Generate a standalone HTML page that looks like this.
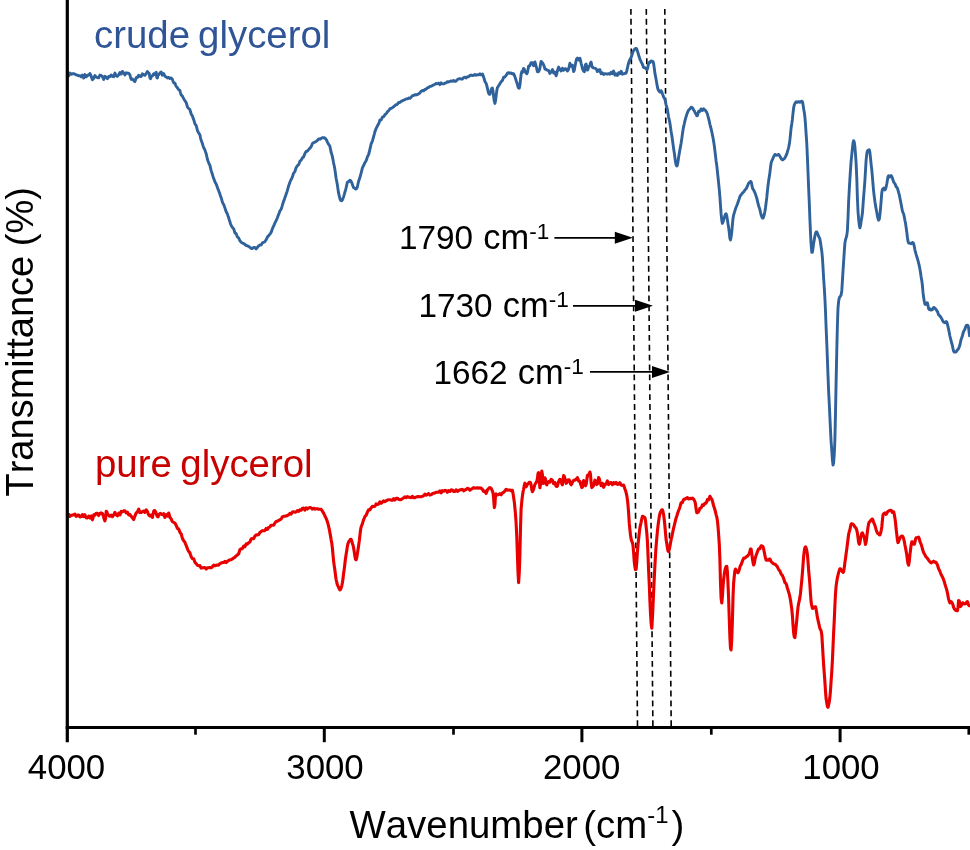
<!DOCTYPE html>
<html lang="en">
<head>
<meta charset="utf-8">
<title>FTIR spectra of crude and pure glycerol</title>
<style>
html,body{margin:0;padding:0;background:#fff;}
body{width:970px;height:850px;overflow:hidden;}
svg{display:block;}
text{font-family:"Liberation Sans",Arial,Helvetica,sans-serif;font-kerning:none;font-variant-ligatures:none;}
.title{font-size:38.4px;fill:#000;}
.tick{font-size:34.8px;fill:#000;text-anchor:middle;}
.ann{font-size:33.3px;fill:#000;}
.sup{font-size:0.62em;}
</style>
</head>
<body>
<svg width="970" height="850" viewBox="0 0 970 850">
<rect x="0" y="0" width="970" height="850" fill="#ffffff"/>
<!-- dashed guide lines -->
<g stroke="#000" stroke-width="1.6" stroke-dasharray="5.9 3.98" fill="none">
<line x1="630.9" y1="8.9" x2="637.5" y2="726"/>
<line x1="646.3" y1="8.9" x2="652.9" y2="726"/>
<line x1="664.8" y1="8.9" x2="671.2" y2="726"/>
</g>
<!-- spectra -->
<path d="M67.4,74.6 68.0,75.2 68.7,75.8 69.3,74.4 69.9,73.0 70.5,73.7 71.2,74.3 71.8,74.1 72.4,73.8 73.0,73.7 73.7,73.7 74.3,73.9 74.9,74.1 75.5,74.5 76.2,74.9 76.8,75.0 77.4,75.2 78.0,75.5 78.7,75.9 79.3,75.7 79.9,75.6 80.5,76.2 81.2,76.8 81.8,76.0 82.4,75.1 83.0,76.6 83.7,78.0 84.3,76.3 84.9,74.6 85.5,75.8 86.2,76.9 86.8,76.1 87.4,75.3 88.0,75.3 88.7,75.3 89.3,74.3 89.9,73.5 90.5,74.5 91.2,76.0 91.8,78.3 92.4,79.7 93.0,79.2 93.7,78.4 94.3,76.8 94.9,75.5 95.5,76.2 96.2,76.9 96.8,77.2 97.4,77.6 98.0,77.7 98.7,77.9 99.3,76.5 99.9,75.1 100.5,75.3 101.2,75.5 101.8,76.0 102.4,76.4 103.0,78.0 103.7,79.5 104.3,77.9 104.9,76.3 105.5,76.7 106.2,77.1 106.8,77.9 107.4,78.7 108.0,77.6 108.7,76.5 109.3,76.6 109.9,76.8 110.5,75.9 111.2,75.0 111.8,75.6 112.4,76.3 113.0,76.5 113.7,76.7 114.3,74.9 114.9,73.1 115.5,74.5 116.2,75.8 116.8,76.1 117.4,76.3 118.0,75.6 118.7,74.8 119.3,73.6 119.9,72.5 120.5,73.3 121.2,74.2 121.8,72.8 122.4,71.4 123.0,72.2 123.7,72.9 124.3,73.9 124.9,75.0 125.5,73.9 126.2,72.8 126.8,73.0 127.4,73.2 128.0,73.1 128.7,73.4 129.3,74.0 129.9,74.9 130.5,77.2 131.2,79.4 131.8,79.1 132.4,78.9 133.0,79.7 133.7,80.3 134.3,81.1 134.9,81.6 135.5,80.0 136.2,77.7 136.8,77.3 137.4,77.5 138.0,76.3 138.7,75.2 139.3,75.8 139.9,76.4 140.5,76.5 141.2,76.5 141.8,75.2 142.4,73.8 143.0,74.3 143.7,74.7 144.3,75.1 144.9,75.3 145.5,74.5 146.2,73.6 146.8,72.6 147.4,71.6 148.0,72.3 148.7,73.2 149.3,73.7 149.9,77.8 150.5,78.8 151.2,77.0 151.8,75.9 152.4,75.9 153.0,74.9 153.7,73.8 154.3,74.2 154.9,74.7 155.5,73.1 156.2,72.4 156.8,77.6 157.4,78.0 158.0,74.9 158.7,74.8 159.3,73.8 159.9,73.0 160.5,72.4 161.2,72.0 161.8,73.5 162.4,75.2 163.0,74.4 163.7,73.6 164.3,74.9 164.9,76.2 165.5,76.6 166.2,76.9 166.8,77.5 167.4,78.0 168.0,77.7 168.7,77.4 169.3,77.9 169.9,78.6 170.5,78.2 171.2,78.0 171.8,78.5 172.4,79.4 173.0,81.1 173.7,82.8 174.3,83.0 174.9,83.1 175.5,84.8 176.2,86.5 176.8,87.0 177.4,87.7 178.0,88.7 178.7,89.7 179.3,90.1 179.9,90.5 180.5,92.8 181.2,95.1 181.8,95.5 182.4,96.0 183.0,97.3 183.7,98.7 184.3,99.7 184.9,100.6 185.5,101.6 186.2,102.6 186.8,104.7 187.4,106.9 188.0,107.7 188.7,108.5 189.3,109.0 189.9,109.6 190.5,111.8 191.2,114.0 191.8,115.1 192.4,116.1 193.0,117.9 193.7,119.6 194.3,121.7 194.9,123.7 195.5,124.6 196.2,125.5 196.8,127.9 197.4,130.4 198.0,131.7 198.7,133.0 199.3,133.9 199.9,134.8 200.5,137.8 201.2,140.5 201.8,142.0 202.4,143.5 203.0,145.6 203.7,147.8 204.3,148.8 204.9,149.9 205.5,151.8 206.2,153.7 206.8,156.5 207.4,159.3 208.0,161.0 208.7,162.8 209.3,164.1 209.9,165.4 210.5,168.0 211.2,170.6 211.8,172.5 212.4,174.4 213.0,176.4 213.7,178.4 214.3,180.1 214.9,181.7 215.5,182.9 216.2,184.1 216.8,185.7 217.4,187.4 218.0,189.1 218.7,190.8 219.3,192.5 219.9,194.1 220.5,196.0 221.2,197.8 221.8,199.9 222.4,202.1 223.0,203.4 223.7,204.6 224.3,206.2 224.9,207.8 225.5,209.8 226.2,211.8 226.8,212.9 227.4,214.0 228.0,215.9 228.7,217.8 229.3,219.9 229.9,221.8 230.5,223.7 231.2,225.5 231.8,226.5 232.4,227.4 233.0,228.1 233.7,228.9 234.3,230.8 234.9,232.8 235.5,233.3 236.2,233.8 236.8,235.4 237.4,237.0 238.0,237.5 238.7,238.0 239.3,239.4 239.9,240.7 240.5,241.4 241.2,242.1 241.8,242.6 242.4,243.0 243.0,243.3 243.7,243.5 244.3,244.0 244.9,244.4 245.5,245.0 246.2,245.5 246.8,245.7 247.4,245.9 248.0,246.2 248.7,246.5 249.3,246.9 249.9,247.2 250.5,247.9 251.2,248.5 251.8,248.5 252.4,248.5 253.0,248.0 253.7,247.5 254.3,247.6 254.9,247.5 255.5,248.2 256.1,248.9 256.8,248.2 257.4,247.4 258.0,246.6 258.6,245.8 259.3,245.4 259.9,245.0 260.5,245.0 261.1,245.0 261.8,244.0 262.4,242.8 263.0,242.6 263.6,242.3 264.3,242.0 264.9,241.6 265.5,240.7 266.1,239.8 266.8,238.4 267.4,237.0 268.0,236.4 268.6,235.8 269.3,234.9 269.9,234.1 270.5,233.3 271.1,232.4 271.8,230.6 272.4,228.8 273.0,227.4 273.6,226.0 274.3,224.6 274.9,223.0 275.5,221.9 276.1,220.6 276.8,219.1 277.4,217.7 278.0,216.1 278.6,214.5 279.3,212.7 279.9,210.9 280.5,210.1 281.1,209.2 281.8,207.2 282.4,205.1 283.0,203.2 283.6,201.2 284.3,199.6 284.9,197.8 285.5,196.1 286.1,194.3 286.8,192.3 287.4,190.4 288.0,188.1 288.6,186.0 289.3,184.1 289.9,182.2 290.5,180.8 291.1,179.5 291.8,178.2 292.4,176.9 293.0,175.0 293.6,173.1 294.3,172.3 294.9,171.5 295.5,169.6 296.1,167.7 296.8,166.7 297.4,165.8 298.0,165.2 298.6,164.6 299.3,163.0 299.9,161.3 300.5,160.7 301.1,160.1 301.8,159.0 302.4,157.9 303.0,157.3 303.6,156.8 304.3,155.2 304.9,153.6 305.5,152.5 306.1,151.5 306.8,151.3 307.4,151.1 308.0,150.3 308.6,149.5 309.3,148.9 309.9,148.2 310.5,147.5 311.1,146.8 311.8,145.1 312.4,143.5 313.0,143.0 313.6,142.6 314.3,142.4 314.9,142.1 315.5,141.8 316.1,141.5 316.8,140.9 317.4,140.4 318.0,139.6 318.6,138.9 319.3,139.0 319.9,139.2 320.5,138.8 321.1,138.3 321.8,138.0 322.4,137.6 323.0,137.6 323.6,137.7 324.3,137.8 324.9,138.2 325.5,138.7 326.1,139.4 326.8,140.6 327.4,142.1 328.0,143.2 328.6,144.4 329.3,145.2 329.9,146.4 330.5,149.2 331.1,152.3 331.8,154.4 332.4,156.7 333.0,159.8 333.6,163.0 334.3,166.2 334.9,169.6 335.5,173.8 336.1,178.2 336.8,181.7 337.4,185.1 338.0,189.4 338.6,193.2 339.3,196.1 339.9,198.8 340.5,200.2 341.1,200.6 341.8,200.7 342.4,199.9 343.0,198.4 343.6,196.6 344.3,194.3 344.9,192.1 345.5,190.2 346.1,187.9 346.8,184.7 347.4,182.1 348.0,181.7 348.6,181.7 349.3,180.9 349.9,180.2 350.5,180.5 351.1,181.5 351.8,182.8 352.4,184.5 353.0,186.2 353.6,187.6 354.3,188.0 354.9,188.4 355.5,189.0 356.1,189.1 356.8,188.3 357.4,186.7 358.0,184.0 358.6,181.2 359.3,179.4 359.9,177.5 360.5,175.4 361.1,173.2 361.8,170.4 362.4,167.8 363.0,166.6 363.6,165.6 364.3,164.0 364.9,162.6 365.5,161.7 366.1,160.7 366.8,158.9 367.4,156.9 368.0,155.8 368.6,154.5 369.3,152.0 369.9,149.4 370.5,146.7 371.1,144.0 371.8,142.4 372.4,141.0 373.0,138.8 373.6,136.6 374.3,134.1 374.9,131.6 375.5,130.1 376.1,128.6 376.8,127.2 377.4,126.0 378.0,124.8 378.6,123.9 379.3,121.9 379.9,119.9 380.5,119.9 381.1,120.0 381.8,118.5 382.4,117.1 383.0,116.9 383.6,116.8 384.3,115.7 384.9,114.6 385.5,114.1 386.1,113.7 386.8,112.8 387.4,111.9 388.0,111.3 388.6,110.7 389.3,109.8 389.9,108.9 390.5,108.6 391.1,108.3 391.8,108.0 392.4,107.6 393.0,107.2 393.6,106.8 394.3,106.2 394.9,105.7 395.5,105.2 396.1,104.7 396.8,104.5 397.4,104.3 398.0,103.4 398.6,102.5 399.3,102.5 399.9,102.5 400.5,102.0 401.1,101.4 401.8,101.1 402.4,100.7 403.0,100.5 403.6,100.2 404.3,99.9 404.9,99.6 405.5,99.3 406.1,98.9 406.8,98.9 407.4,98.9 408.0,98.5 408.6,98.0 409.3,98.2 409.9,98.4 410.5,97.8 411.1,97.2 411.8,96.4 412.4,95.7 413.0,95.6 413.6,95.5 414.3,95.1 414.9,94.7 415.5,94.8 416.1,95.0 416.8,94.7 417.4,94.5 418.0,94.2 418.6,93.9 419.3,93.3 419.9,92.8 420.5,92.0 421.1,91.3 421.8,90.9 422.4,90.5 423.0,90.7 423.6,90.9 424.3,90.2 424.9,89.4 425.5,89.3 426.1,89.2 426.8,88.5 427.4,87.9 428.0,87.7 428.6,87.5 429.3,86.9 429.9,86.4 430.5,86.4 431.1,86.3 431.8,85.9 432.4,85.5 433.0,85.2 433.6,84.9 434.3,84.6 434.9,84.3 435.5,83.9 436.1,83.5 436.8,83.7 437.4,83.9 438.0,83.5 438.6,83.1 439.3,83.9 439.9,84.7 440.5,83.8 441.1,82.9 441.8,83.4 442.4,83.9 443.0,83.9 443.6,83.9 444.3,83.5 444.9,83.2 445.5,83.0 446.1,82.7 446.8,82.2 447.4,81.7 448.0,81.8 448.6,82.0 449.3,81.7 449.9,81.5 450.5,81.2 451.1,80.9 451.8,81.2 452.4,81.4 453.0,80.9 453.6,80.5 454.3,81.0 454.9,81.4 455.5,81.3 456.1,81.1 456.8,80.3 457.4,79.5 458.0,79.2 458.6,78.9 459.3,78.8 459.9,78.7 460.5,78.8 461.1,79.0 461.8,79.0 462.4,79.0 463.0,78.3 463.6,77.6 464.3,77.4 464.9,77.2 465.5,77.6 466.1,78.0 466.8,77.3 467.4,76.7 468.0,76.7 468.6,76.7 469.3,76.1 469.9,75.5 470.5,75.3 471.1,75.0 471.8,75.3 472.4,75.6 473.0,75.4 473.6,75.3 474.3,74.9 474.9,74.4 475.5,74.8 476.1,75.2 476.8,75.0 477.4,74.8 478.0,74.9 478.6,74.9 479.3,74.3 479.9,73.8 480.5,74.3 481.1,74.9 481.8,74.4 482.4,74.0 483.0,75.2 483.6,77.0 484.3,79.2 484.9,81.4 485.5,82.5 486.1,83.4 486.8,85.7 487.4,88.2 488.0,90.9 488.6,93.1 489.3,94.2 489.9,94.3 490.5,92.6 491.1,90.0 491.8,88.4 492.4,88.1 493.0,91.0 493.6,96.3 494.3,101.2 494.9,103.4 495.5,101.0 496.1,96.0 496.8,90.6 497.4,87.7 498.0,86.7 498.6,85.8 499.3,84.7 499.9,83.7 500.5,82.7 501.1,81.7 501.8,81.1 502.4,80.5 503.0,78.9 503.6,77.3 504.3,77.2 504.9,77.0 505.5,76.2 506.1,75.4 506.8,74.3 507.4,73.3 508.0,72.9 508.6,72.6 509.3,73.0 509.9,73.4 510.5,73.1 511.1,72.9 511.8,73.4 512.4,74.0 513.0,73.7 513.6,73.8 514.3,75.1 514.9,76.8 515.5,78.4 516.1,80.5 516.8,82.4 517.4,84.5 518.0,86.8 518.6,88.0 519.3,88.2 519.9,85.3 520.5,79.7 521.1,74.3 521.8,71.6 522.4,72.5 523.0,70.2 523.6,68.4 524.3,69.2 524.9,71.4 525.5,72.3 526.1,73.0 526.8,73.7 527.4,72.6 528.0,69.5 528.6,66.2 529.3,65.7 529.9,65.7 530.5,64.1 531.1,62.6 531.8,62.6 532.4,62.6 533.0,64.1 533.6,65.7 534.3,63.6 534.9,61.9 535.5,63.9 536.1,66.2 536.8,69.0 537.4,71.6 538.0,71.9 538.6,71.5 539.3,70.3 539.9,68.2 540.5,64.5 541.1,61.4 541.8,61.9 542.4,62.9 543.0,63.7 543.6,64.7 544.3,66.7 544.9,69.0 545.5,69.2 546.1,69.3 546.8,70.0 547.4,70.3 548.0,70.4 548.6,70.5 549.3,72.0 549.9,73.5 550.5,72.6 551.1,71.8 551.8,70.7 552.4,69.6 553.0,71.3 553.6,73.1 554.3,72.6 554.9,72.1 555.5,74.1 556.1,75.8 556.8,73.6 557.4,71.0 558.0,69.0 558.6,67.1 559.3,68.2 559.9,69.7 560.5,70.3 561.1,71.0 561.8,69.6 562.4,68.2 563.0,69.2 563.6,70.3 564.3,69.6 564.9,68.8 565.5,68.8 566.1,68.9 566.8,70.0 567.4,71.1 568.0,70.2 568.6,69.2 569.3,66.2 569.9,63.2 570.5,64.7 571.1,66.3 571.8,65.3 572.4,65.2 573.0,68.3 573.6,71.6 574.3,70.3 574.9,66.8 575.5,63.8 576.1,60.7 576.8,58.5 577.4,58.0 578.0,59.0 578.6,60.1 579.3,59.1 579.9,58.2 580.5,60.3 581.1,63.3 581.8,65.8 582.4,68.5 583.0,70.1 583.6,71.1 584.3,71.7 584.9,68.5 585.5,64.5 586.1,64.0 586.8,67.1 587.4,70.1 588.0,69.3 588.6,67.0 589.3,66.2 589.9,65.2 590.5,62.9 591.1,62.1 591.8,65.4 592.4,67.2 593.0,67.6 593.6,67.9 594.3,68.1 594.9,68.1 595.5,68.5 596.1,68.8 596.8,70.2 597.4,71.6 598.0,70.8 598.6,69.9 599.3,69.8 599.9,69.7 600.5,72.3 601.1,73.7 601.8,73.2 602.4,72.8 603.0,73.6 603.6,74.4 604.3,74.0 604.9,73.6 605.5,73.8 606.1,73.9 606.8,74.0 607.4,74.0 608.0,73.9 608.6,73.7 609.3,74.0 609.9,74.2 610.5,73.2 611.1,72.2 611.8,72.9 612.4,73.7 613.0,72.2 613.6,71.0 614.3,73.1 614.9,75.2 615.5,74.7 616.1,73.9 616.8,74.8 617.4,75.5 618.0,74.1 618.6,72.7 619.3,73.2 619.9,73.8 620.5,72.4 621.1,71.2 621.8,72.7 622.4,74.2 623.0,74.0 623.6,73.9 624.3,73.5 624.9,73.2 625.5,73.2 626.1,73.2 626.8,70.9 627.4,68.0 628.0,65.3 628.6,62.8 629.3,61.1 629.9,59.6 630.5,58.5 631.1,57.4 631.8,55.6 632.4,53.5 633.0,51.6 633.6,50.7 634.3,49.7 634.9,48.9 635.5,48.5 636.1,48.4 636.8,49.1 637.4,51.0 638.0,52.9 638.6,55.0 639.3,57.3 639.9,58.9 640.5,60.4 641.1,61.7 641.8,63.0 642.4,64.2 643.0,65.9 643.6,67.5 644.3,67.5 644.9,67.6 645.5,68.3 646.1,68.9 646.8,69.6 647.4,69.2 648.0,66.5 648.6,63.5 649.3,62.3 649.9,62.6 650.5,61.8 651.1,60.9 651.8,61.1 652.4,61.4 653.0,61.4 653.6,63.5 654.3,68.2 654.9,73.1 655.5,76.2 656.1,79.4 656.8,83.4 657.4,86.9 658.0,89.4 658.6,90.5 659.3,91.4 659.9,92.1 660.5,91.4 661.1,90.7 661.8,92.0 662.4,93.7 663.0,95.2 663.6,97.2 664.3,98.1 664.9,99.2 665.5,102.0 666.1,104.9 666.8,107.2 667.4,109.7 668.0,113.3 668.6,117.1 669.3,120.0 669.9,123.1 670.5,127.1 671.1,131.5 671.8,135.5 672.4,139.6 673.0,144.2 673.6,148.5 674.3,152.9 674.9,157.7 675.5,161.9 676.1,164.7 676.8,166.0 677.4,165.1 678.0,161.7 678.6,157.3 679.3,153.3 679.9,149.7 680.5,146.6 681.1,143.2 681.8,138.6 682.4,134.1 683.0,130.2 683.6,126.6 684.3,123.8 684.9,120.9 685.5,118.6 686.1,116.7 686.8,114.4 687.4,112.7 688.0,111.4 688.6,110.2 689.3,109.4 689.9,109.0 690.5,108.2 691.1,107.2 691.8,107.4 692.4,107.8 693.0,108.8 693.6,109.8 694.3,110.8 694.9,112.1 695.5,113.3 696.1,114.4 696.8,115.7 697.4,115.7 698.0,113.6 698.6,111.3 699.3,110.9 699.9,111.4 700.5,110.1 701.1,108.9 701.8,109.7 702.4,110.5 703.0,109.7 703.6,108.8 704.3,109.4 704.9,110.1 705.5,110.5 706.1,111.4 706.8,112.6 707.4,114.0 708.0,116.3 708.6,118.5 709.3,121.3 709.9,124.3 710.5,126.5 711.1,128.9 711.8,131.8 712.4,134.9 713.0,137.8 713.6,141.2 714.3,145.7 714.9,150.6 715.5,155.7 716.1,161.0 716.8,165.9 717.4,171.3 718.0,177.0 718.6,182.9 719.3,189.6 719.9,196.9 720.5,205.3 721.1,213.9 721.8,220.4 722.4,223.4 723.0,222.2 723.6,219.9 724.3,217.8 724.9,215.7 725.5,214.1 726.1,213.7 726.8,216.0 727.4,219.8 728.0,223.7 728.6,227.3 729.3,232.9 729.9,238.5 730.5,240.0 731.1,237.0 731.8,231.5 732.4,224.7 733.0,218.5 733.6,215.2 734.3,212.9 734.9,210.9 735.5,208.9 736.1,207.1 736.8,205.6 737.4,204.0 738.0,202.2 738.6,200.5 739.3,198.5 739.9,196.6 740.5,195.6 741.1,194.8 741.8,193.9 742.4,193.1 743.0,192.5 743.6,192.0 744.3,191.1 744.9,190.1 745.5,189.4 746.1,188.7 746.8,187.5 747.4,186.2 748.0,184.7 748.6,183.2 749.3,182.5 749.9,182.3 750.5,181.4 751.1,181.7 751.8,184.5 752.4,187.8 753.0,189.2 753.6,189.9 754.3,191.4 754.9,192.8 755.5,194.3 756.1,196.1 756.8,198.2 757.4,200.8 758.0,203.3 758.6,205.7 759.3,207.7 759.9,209.7 760.5,212.4 761.1,214.8 761.8,216.8 762.4,218.0 763.0,218.1 763.6,216.8 764.3,214.5 764.9,211.5 765.5,207.7 766.1,202.9 766.8,197.4 767.4,191.2 768.0,185.8 768.6,181.1 769.3,176.8 769.9,172.6 770.5,167.5 771.1,163.0 771.8,160.9 772.4,159.8 773.0,158.2 773.6,156.8 774.3,155.4 774.9,154.4 775.5,154.7 776.1,155.2 776.8,155.1 777.4,155.1 778.0,154.7 778.6,154.4 779.3,155.3 779.9,156.2 780.5,157.3 781.1,158.5 781.8,159.3 782.4,159.8 783.0,159.7 783.6,159.2 784.3,158.6 784.9,157.8 785.5,156.7 786.1,155.5 786.8,153.9 787.4,151.8 788.0,149.9 788.6,147.5 789.3,144.4 789.9,139.9 790.5,134.1 791.1,128.1 791.8,123.7 792.4,119.2 793.0,113.4 793.6,108.0 794.3,104.9 794.9,103.5 795.5,102.6 796.1,101.8 796.8,102.1 797.4,102.4 798.0,101.9 798.6,101.6 799.3,101.9 799.9,102.3 800.5,101.9 801.1,101.4 801.8,101.3 802.4,101.6 803.0,104.4 803.6,108.6 804.3,112.4 804.9,117.0 805.5,124.5 806.1,133.7 806.8,143.7 807.4,157.0 808.0,172.0 808.6,187.2 809.3,203.0 809.9,219.3 810.5,233.0 811.1,244.3 811.8,252.4 812.4,252.3 813.0,248.4 813.6,243.5 814.3,239.4 814.9,236.1 815.5,233.6 816.1,231.9 816.8,232.0 817.4,233.2 818.0,234.6 818.6,236.4 819.3,237.5 819.9,239.1 820.5,242.5 821.1,246.7 821.8,251.4 822.4,257.5 823.0,267.0 823.6,278.0 824.3,288.1 824.9,298.4 825.5,311.2 826.1,327.2 826.8,343.8 827.4,359.2 828.0,375.2 828.6,390.8 829.3,404.5 829.9,417.1 830.5,430.0 831.1,441.6 831.8,450.7 832.4,459.7 833.0,465.1 833.6,463.0 834.3,453.8 834.9,439.9 835.5,412.9 836.1,382.7 836.8,350.0 837.4,325.1 838.0,308.1 838.6,301.5 839.3,297.9 839.9,296.8 840.5,296.1 841.1,295.1 841.8,290.7 842.4,280.9 843.0,271.1 843.6,262.0 844.3,251.4 844.9,243.2 845.5,239.8 846.1,237.9 846.8,235.4 847.4,230.6 848.0,218.3 848.6,202.3 849.3,189.1 849.9,179.2 850.5,169.6 851.1,161.3 851.8,154.3 852.4,148.3 853.0,143.1 853.6,140.7 854.3,142.1 854.9,146.7 855.5,154.3 856.1,163.1 856.8,178.4 857.4,198.1 858.0,211.3 858.6,218.7 859.3,225.1 859.9,227.9 860.5,225.7 861.1,221.4 861.8,217.6 862.4,213.3 863.0,205.7 863.6,197.0 864.3,188.7 864.9,180.5 865.5,170.4 866.1,160.4 866.8,153.7 867.4,151.1 868.0,150.2 868.6,150.1 869.3,149.8 869.9,152.4 870.5,157.9 871.1,164.1 871.8,169.9 872.4,176.9 873.0,184.2 873.6,191.1 874.3,196.9 874.9,201.5 875.5,205.3 876.1,208.7 876.8,212.3 877.4,215.9 878.0,218.7 878.6,220.2 879.3,219.2 879.9,214.9 880.5,208.9 881.1,201.4 881.8,192.6 882.4,189.5 883.0,188.8 883.6,188.1 884.3,189.0 884.9,189.9 885.5,189.1 886.1,187.0 886.8,183.8 887.4,180.2 888.0,176.8 888.6,175.7 889.3,176.2 889.9,176.9 890.5,176.2 891.1,175.6 891.8,176.6 892.4,178.1 893.0,180.0 893.6,181.9 894.3,182.9 894.9,183.6 895.5,185.1 896.1,186.6 896.8,187.3 897.4,188.2 898.0,190.1 898.6,192.4 899.3,194.8 899.9,198.0 900.5,201.0 901.1,204.0 901.8,207.8 902.4,211.1 903.0,212.5 903.6,213.8 904.3,216.9 904.9,220.3 905.5,223.0 906.1,227.2 906.8,232.3 907.4,237.2 908.0,241.3 908.6,243.0 909.3,243.1 909.9,243.1 910.5,243.5 911.1,243.8 911.8,243.1 912.4,242.5 913.0,242.6 913.6,243.6 914.3,246.5 914.9,249.8 915.5,252.2 916.1,254.4 916.8,256.5 917.4,258.6 918.0,260.7 918.6,263.0 919.3,265.8 919.9,269.0 920.5,272.6 921.1,276.7 921.8,280.7 922.4,285.4 923.0,292.2 923.6,297.3 924.3,301.3 924.9,304.1 925.5,304.4 926.1,303.7 926.8,302.8 927.4,302.9 928.0,305.6 928.6,308.7 929.3,309.6 929.9,308.7 930.5,309.5 931.1,310.1 931.8,309.8 932.4,309.6 933.0,308.4 933.6,307.5 934.3,307.7 934.9,308.1 935.5,308.9 936.1,309.7 936.8,310.6 937.4,311.4 938.0,313.1 938.6,314.9 939.3,315.4 939.9,316.0 940.5,316.7 941.1,317.6 941.8,318.9 942.4,320.1 943.0,321.4 943.6,322.0 944.3,322.4 944.9,322.7 945.5,322.1 946.1,321.6 946.8,322.2 947.4,324.1 948.0,326.6 948.6,329.4 949.3,332.7 949.9,336.0 950.5,338.5 951.1,341.0 951.8,343.5 952.4,345.7 953.0,348.6 953.6,351.1 954.3,352.0 954.9,351.9 955.5,352.1 956.1,351.9 956.8,351.0 957.4,349.9 958.0,349.4 958.6,348.4 959.3,346.8 959.9,345.0 960.5,342.3 961.1,339.4 961.8,337.5 962.4,335.7 963.0,333.5 963.6,331.4 964.3,330.2 964.9,329.2 965.5,327.3 966.1,325.7 966.8,325.4 967.4,325.2 968.0,325.5 968.6,327.8 969.3,333.9 969.9,337.1" fill="none" stroke="#2F629B" stroke-width="2.9" stroke-linejoin="round" stroke-linecap="butt"/>
<path d="M67.4,517.1 68.0,515.7 68.7,514.3 69.3,515.3 69.9,516.4 70.5,515.8 71.2,515.3 71.8,515.2 72.4,515.1 73.0,514.9 73.7,514.7 74.3,514.4 74.9,514.1 75.5,515.3 76.2,516.4 76.8,515.7 77.4,515.0 78.0,515.0 78.7,515.0 79.3,516.0 79.9,517.0 80.5,516.8 81.2,516.6 81.8,515.6 82.4,514.6 83.0,515.6 83.7,516.5 84.3,515.6 84.9,514.7 85.5,516.3 86.2,517.8 86.8,517.9 87.4,518.0 88.0,517.1 88.7,516.1 89.3,517.0 89.9,518.0 90.5,516.7 91.2,516.0 91.8,518.2 92.4,519.8 93.0,517.9 93.7,515.0 94.3,514.5 94.9,515.1 95.5,514.1 96.2,513.2 96.8,513.2 97.4,513.2 98.0,514.3 98.7,515.5 99.3,514.5 99.9,513.5 100.5,513.2 101.2,512.9 101.8,513.2 102.4,513.6 103.0,515.1 103.7,517.2 104.3,519.3 104.9,520.8 105.5,518.6 106.2,511.3 106.8,511.6 107.4,513.6 108.0,514.4 108.7,515.2 109.3,516.0 109.9,516.1 110.5,515.7 111.2,515.1 111.8,515.9 112.4,516.7 113.0,515.8 113.7,515.0 114.3,513.7 114.9,512.4 115.5,513.6 116.2,514.9 116.8,515.4 117.4,515.9 118.0,514.6 118.7,513.2 119.3,514.1 119.9,514.9 120.5,513.2 121.2,511.4 121.8,511.7 122.4,512.0 123.0,511.4 123.7,510.9 124.3,510.8 124.9,510.9 125.5,511.9 126.2,512.9 126.8,512.5 127.4,512.1 128.0,513.5 128.7,514.9 129.3,514.3 129.9,514.5 130.5,515.5 131.2,516.1 131.8,517.1 132.4,517.7 133.0,518.6 133.7,519.5 134.3,517.8 134.9,516.1 135.5,514.6 136.2,512.9 136.8,512.6 137.4,512.1 138.0,510.6 138.7,509.1 139.3,510.7 139.9,512.6 140.5,512.4 141.2,512.4 141.8,512.0 142.4,511.7 143.0,511.3 143.7,511.0 144.3,511.7 144.9,512.4 145.5,511.1 146.2,509.9 146.8,510.5 147.4,511.5 148.0,513.1 148.7,514.8 149.3,515.5 149.9,516.0 150.5,515.7 151.2,514.9 151.8,516.5 152.4,517.4 153.0,514.3 153.7,511.3 154.3,510.5 154.9,510.7 155.5,511.7 156.2,513.3 156.8,515.3 157.4,516.6 158.0,516.8 158.7,515.4 159.3,514.3 159.9,513.8 160.5,513.4 161.2,514.0 161.8,514.3 162.4,514.6 163.0,514.4 163.7,513.6 164.3,515.6 164.9,517.5 165.5,516.1 166.2,514.6 166.8,515.3 167.4,516.0 168.0,514.5 168.7,513.0 169.3,514.9 169.9,517.4 170.5,518.1 171.2,518.9 171.8,520.5 172.4,521.6 173.0,522.0 173.7,522.4 174.3,522.7 174.9,523.1 175.5,524.2 176.2,525.3 176.8,526.8 177.4,528.5 178.0,528.7 178.7,529.0 179.3,530.6 179.9,532.1 180.5,533.1 181.2,534.0 181.8,536.2 182.4,538.4 183.0,539.6 183.7,540.8 184.3,541.5 184.9,542.2 185.5,543.8 186.2,545.4 186.8,547.1 187.4,548.7 188.0,550.1 188.7,551.5 189.3,552.1 189.9,552.7 190.5,554.8 191.2,556.8 191.8,557.7 192.4,558.5 193.0,558.6 193.7,558.7 194.3,560.5 194.9,562.3 195.5,563.0 196.2,563.6 196.8,564.4 197.4,565.2 198.0,565.5 198.7,565.7 199.3,565.7 199.9,565.6 200.5,566.9 201.2,568.1 201.8,567.9 202.4,567.8 203.0,567.7 203.7,567.5 204.3,567.5 204.9,567.5 205.5,568.3 206.2,569.1 206.8,568.4 207.4,567.7 208.0,567.7 208.7,567.7 209.3,567.6 209.9,567.5 210.5,567.6 211.2,567.7 211.8,567.2 212.4,566.7 213.0,565.9 213.7,565.2 214.3,565.5 214.9,565.8 215.5,565.5 216.2,565.2 216.8,565.1 217.4,565.0 218.0,565.1 218.7,565.1 219.3,564.3 219.9,563.6 220.5,563.3 221.2,563.0 221.8,562.8 222.4,562.5 223.0,562.5 223.7,562.5 224.3,562.0 224.9,561.4 225.5,562.0 226.2,562.6 226.8,561.9 227.4,561.3 228.0,560.9 228.7,560.5 229.3,560.2 229.9,559.8 230.5,559.8 231.2,559.7 231.8,559.3 232.4,558.8 233.0,558.5 233.7,558.0 234.3,557.6 234.9,557.2 235.5,556.5 236.2,555.9 236.8,555.4 237.4,555.0 238.0,554.3 238.7,553.7 239.3,551.7 239.9,549.7 240.5,549.2 241.2,548.8 241.8,548.7 242.4,548.6 243.0,547.3 243.7,546.1 244.3,546.4 244.9,546.7 245.5,545.3 246.2,543.9 246.8,544.0 247.4,544.1 248.0,543.4 248.7,542.7 249.3,542.4 249.9,542.0 250.5,540.5 251.2,539.0 251.8,538.7 252.4,538.4 253.0,538.6 253.7,538.7 254.3,537.4 254.9,536.1 255.5,535.5 256.1,535.0 256.8,534.9 257.4,534.9 258.0,534.8 258.6,534.6 259.3,533.5 259.9,532.4 260.5,532.0 261.1,531.5 261.8,531.1 262.4,530.6 263.0,530.7 263.6,530.7 264.3,530.7 264.9,530.6 265.5,529.5 266.1,528.5 266.8,529.0 267.4,529.4 268.0,528.4 268.6,527.4 269.3,527.2 269.9,527.0 270.5,526.1 271.1,525.2 271.8,525.2 272.4,525.2 273.0,525.2 273.6,525.2 274.3,524.1 274.9,523.0 275.5,522.3 276.1,521.5 276.8,521.4 277.4,521.2 278.0,520.8 278.6,520.5 279.3,520.1 279.9,519.8 280.5,519.4 281.1,519.0 281.8,517.9 282.4,516.9 283.0,516.6 283.6,516.3 284.3,516.3 284.9,516.2 285.5,516.1 286.1,516.0 286.8,515.7 287.4,515.5 288.0,515.1 288.6,514.7 289.3,514.1 289.9,513.4 290.5,513.7 291.1,514.1 291.8,513.0 292.4,512.0 293.0,511.9 293.6,511.9 294.3,512.0 294.9,512.1 295.5,512.1 296.1,512.0 296.8,511.2 297.4,510.5 298.0,510.9 298.6,511.3 299.3,510.6 299.9,509.9 300.5,510.1 301.1,510.3 301.8,509.2 302.4,508.2 303.0,508.2 303.6,508.1 304.3,509.1 304.9,510.1 305.5,509.0 306.1,507.8 306.8,508.4 307.4,509.0 308.0,508.4 308.6,507.9 309.3,507.7 309.9,507.5 310.5,507.7 311.1,507.8 311.8,508.5 312.4,509.1 313.0,508.6 313.6,508.2 314.3,508.6 314.9,509.1 315.5,509.0 316.1,508.8 316.8,508.8 317.4,508.7 318.0,509.0 318.6,509.3 319.3,509.2 319.9,509.2 320.5,509.3 321.1,509.4 321.8,510.3 322.4,511.3 323.0,512.1 323.6,513.1 324.3,514.5 324.9,516.0 325.5,517.1 326.1,518.3 326.8,520.0 327.4,521.8 328.0,523.9 328.6,526.4 329.3,529.3 329.9,532.6 330.5,535.9 331.1,539.6 331.8,543.3 332.4,548.2 333.0,554.8 333.6,561.1 334.3,566.2 334.9,570.2 335.5,575.0 336.1,579.5 336.8,582.5 337.4,584.8 338.0,586.1 338.6,587.3 339.3,588.9 339.9,589.8 340.5,589.5 341.1,588.1 341.8,585.6 342.4,582.7 343.0,578.8 343.6,573.4 344.3,568.6 344.9,563.5 345.5,558.4 346.1,554.5 346.8,550.2 347.4,546.1 348.0,543.7 348.6,541.9 349.3,540.9 349.9,540.1 350.5,539.2 351.1,539.2 351.8,541.1 352.4,543.5 353.0,545.1 353.6,547.9 354.3,552.1 354.9,556.4 355.5,559.3 356.1,559.8 356.8,557.4 357.4,553.6 358.0,549.8 358.6,545.7 359.3,540.7 359.9,535.4 360.5,530.3 361.1,527.0 361.8,525.2 362.4,523.8 363.0,521.6 363.6,519.7 364.3,518.1 364.9,516.5 365.5,515.9 366.1,515.3 366.8,513.7 367.4,512.1 368.0,510.9 368.6,509.9 369.3,509.8 369.9,509.9 370.5,508.9 371.1,507.9 371.8,507.1 372.4,506.3 373.0,506.4 373.6,506.5 374.3,506.4 374.9,506.3 375.5,505.1 376.1,503.8 376.8,504.1 377.4,504.5 378.0,504.2 378.6,504.0 379.3,502.9 379.9,501.9 380.5,502.6 381.1,503.3 381.8,502.7 382.4,502.0 383.0,501.5 383.6,500.9 384.3,501.2 384.9,501.6 385.5,501.2 386.1,500.7 386.8,500.5 387.4,500.2 388.0,499.9 388.6,499.7 389.3,499.7 389.9,499.7 390.5,499.9 391.1,500.1 391.8,500.2 392.4,500.3 393.0,499.5 393.6,498.7 394.3,499.4 394.9,500.0 395.5,499.2 396.1,498.3 396.8,498.3 397.4,498.2 398.0,498.8 398.6,499.3 399.3,499.5 399.9,499.6 400.5,499.6 401.1,499.6 401.8,499.1 402.4,498.6 403.0,498.3 403.6,497.9 404.3,497.4 404.9,496.8 405.5,497.3 406.1,497.7 406.8,497.2 407.4,496.6 408.0,496.9 408.6,497.3 409.3,497.3 409.9,497.3 410.5,497.5 411.1,497.7 411.8,497.0 412.4,496.3 413.0,497.0 413.6,497.8 414.3,497.7 414.9,497.6 415.5,497.3 416.1,497.1 416.8,496.8 417.4,496.6 418.0,496.6 418.6,496.5 419.3,496.6 419.9,496.7 420.5,496.7 421.1,496.8 421.8,496.6 422.4,496.4 423.0,496.0 423.6,495.7 424.3,494.9 424.9,494.1 425.5,494.6 426.1,495.2 426.8,494.8 427.4,494.3 428.0,494.0 428.6,493.6 429.3,494.4 429.9,495.1 430.5,494.9 431.1,494.7 431.8,494.2 432.4,493.7 433.0,493.4 433.6,493.2 434.3,493.1 434.9,493.0 435.5,492.6 436.1,492.2 436.8,492.2 437.4,492.3 438.0,492.2 438.6,492.1 439.3,491.5 439.9,490.9 440.5,491.9 441.1,492.9 441.8,491.7 442.4,490.6 443.0,490.9 443.6,491.3 444.3,490.9 444.9,490.4 445.5,490.5 446.1,490.5 446.8,491.4 447.4,492.3 448.0,491.5 448.6,490.7 449.3,491.1 449.9,491.5 450.5,490.7 451.1,489.9 451.8,490.0 452.4,490.0 453.0,490.8 453.6,491.5 454.3,491.5 454.9,491.4 455.5,490.6 456.1,489.8 456.8,490.6 457.4,491.4 458.0,491.0 458.6,490.5 459.3,490.3 459.9,490.0 460.5,489.8 461.1,489.6 461.8,489.5 462.4,489.4 463.0,490.1 463.6,490.8 464.3,490.4 464.9,490.0 465.5,489.8 466.1,489.5 466.8,488.9 467.4,488.2 468.0,488.4 468.6,488.6 469.3,489.4 469.9,490.2 470.5,489.7 471.1,489.1 471.8,488.8 472.4,488.5 473.0,488.1 473.6,487.6 474.3,487.9 474.9,488.1 475.5,488.1 476.1,488.1 476.8,487.9 477.4,487.8 478.0,488.0 478.6,488.2 479.3,488.0 479.9,487.9 480.5,488.0 481.1,488.2 481.8,488.8 482.4,489.4 483.0,490.4 483.6,491.5 484.3,491.4 484.9,491.2 485.5,492.5 486.1,493.5 486.8,491.9 487.4,490.0 488.0,489.2 488.6,488.5 489.3,487.8 489.9,487.6 490.5,487.8 491.1,488.4 491.8,489.5 492.4,491.1 493.0,492.8 493.6,498.2 494.3,507.6 494.9,505.1 495.5,495.2 496.1,493.9 496.8,494.4 497.4,494.9 498.0,494.8 498.6,494.6 499.3,494.2 499.9,493.7 500.5,494.3 501.1,494.8 501.8,494.0 502.4,493.0 503.0,492.7 503.6,492.4 504.3,491.7 504.9,490.9 505.5,490.1 506.1,489.3 506.8,489.7 507.4,490.2 508.0,490.1 508.6,490.0 509.3,490.0 509.9,490.0 510.5,490.3 511.1,490.8 511.8,490.2 512.4,490.2 513.0,493.2 513.6,497.3 514.3,501.9 514.9,507.8 515.5,514.4 516.1,523.0 516.8,537.2 517.4,555.0 518.0,572.3 518.6,582.6 519.3,572.3 519.9,555.0 520.5,528.4 521.1,509.0 521.8,501.3 522.4,496.1 523.0,492.0 523.6,489.2 524.3,485.5 524.9,483.2 525.5,485.0 526.1,486.8 526.8,485.6 527.4,484.3 528.0,484.0 528.6,483.2 529.3,482.3 529.9,482.2 530.5,482.8 531.1,484.8 531.8,489.6 532.4,491.7 533.0,490.6 533.6,489.1 534.3,486.6 534.9,484.5 535.5,483.5 536.1,482.5 536.8,481.5 537.4,478.6 538.0,473.6 538.6,472.5 539.3,481.0 539.9,487.8 540.5,484.3 541.1,477.3 541.8,471.1 542.4,474.6 543.0,483.5 543.6,483.1 544.3,480.4 544.9,477.8 545.5,479.1 546.1,483.8 546.8,484.9 547.4,483.2 548.0,482.6 548.6,481.5 549.3,481.6 549.9,482.2 550.5,480.7 551.1,479.3 551.8,479.8 552.4,480.4 553.0,482.0 553.6,483.7 554.3,482.9 554.9,482.5 555.5,484.4 556.1,486.2 556.8,486.5 557.4,486.0 558.0,483.9 558.6,481.6 559.3,480.1 559.9,479.3 560.5,479.7 561.1,481.2 561.8,483.9 562.4,484.8 563.0,479.9 563.6,475.6 564.3,476.3 564.9,478.4 565.5,481.3 566.1,483.3 566.8,482.6 567.4,480.7 568.0,479.9 568.6,479.7 569.3,480.1 569.9,481.9 570.5,483.8 571.1,484.8 571.8,483.9 572.4,482.2 573.0,481.2 573.6,480.4 574.3,480.1 574.9,480.2 575.5,479.8 576.1,479.4 576.8,478.4 577.4,477.6 578.0,478.9 578.6,481.1 579.3,481.1 579.9,481.3 580.5,483.7 581.1,485.5 581.8,487.6 582.4,487.4 583.0,483.1 583.6,480.5 584.3,481.8 584.9,484.0 585.5,485.8 586.1,484.5 586.8,479.9 587.4,475.4 588.0,474.9 588.6,475.5 589.3,473.6 589.9,472.0 590.5,474.4 591.1,482.6 591.8,487.6 592.4,486.9 593.0,486.4 593.6,485.4 594.3,482.6 594.9,480.2 595.5,481.1 596.1,483.7 596.8,484.5 597.4,483.9 598.0,480.8 598.6,477.5 599.3,478.7 599.9,481.6 600.5,483.5 601.1,485.7 601.8,485.0 602.4,483.3 603.0,485.4 603.6,487.3 604.3,485.8 604.9,484.2 605.5,484.2 606.1,484.2 606.8,482.4 607.4,480.9 608.0,482.7 608.6,484.6 609.3,483.8 609.9,483.0 610.5,482.8 611.1,482.5 611.8,483.6 612.4,484.7 613.0,483.6 613.6,482.7 614.3,483.1 614.9,483.8 615.5,483.2 616.1,482.4 616.8,483.6 617.4,484.4 618.0,484.3 618.6,484.3 619.3,483.3 619.9,482.6 620.5,483.8 621.1,485.0 621.8,485.2 622.4,485.5 623.0,485.2 623.6,485.1 624.3,486.9 624.9,489.0 625.5,490.4 626.1,492.7 626.8,495.7 627.4,499.4 628.0,505.1 628.6,512.7 629.3,523.7 629.9,529.6 630.5,535.0 631.1,539.0 631.8,541.3 632.4,542.7 633.0,545.4 633.6,552.6 634.3,562.3 634.9,566.9 635.5,569.6 636.1,569.3 636.8,561.8 637.4,551.9 638.0,545.2 638.6,539.1 639.3,533.0 639.9,527.9 640.5,524.9 641.1,522.3 641.8,518.8 642.4,516.3 643.0,516.3 643.6,517.0 644.3,517.2 644.9,517.7 645.5,520.4 646.1,526.5 646.8,533.1 647.4,541.1 648.0,555.0 648.6,570.5 649.3,584.8 649.9,600.6 650.5,613.5 651.1,623.2 651.8,628.2 652.4,618.6 653.0,606.0 653.6,592.0 654.3,577.6 654.9,565.7 655.5,555.4 656.1,546.1 656.8,538.1 657.4,531.3 658.0,525.9 658.6,521.2 659.3,516.6 659.9,513.6 660.5,512.1 661.1,511.0 661.8,509.7 662.4,509.7 663.0,511.6 663.6,514.8 664.3,520.0 664.9,526.0 665.5,532.9 666.1,539.6 666.8,543.9 667.4,547.7 668.0,551.1 668.6,551.5 669.3,549.4 669.9,546.5 670.5,543.2 671.1,539.7 671.8,536.9 672.4,534.0 673.0,530.9 673.6,528.1 674.3,525.4 674.9,522.8 675.5,520.4 676.1,518.0 676.8,516.0 677.4,514.0 678.0,512.2 678.6,510.5 679.3,508.8 679.9,507.2 680.5,504.9 681.1,502.8 681.8,502.7 682.4,502.6 683.0,500.9 683.6,499.5 684.3,499.1 684.9,499.1 685.5,498.7 686.1,498.3 686.8,497.9 687.4,497.5 688.0,498.2 688.6,499.0 689.3,498.6 689.9,498.3 690.5,498.5 691.1,498.7 691.8,498.4 692.4,498.1 693.0,498.5 693.6,499.2 694.3,500.3 694.9,501.7 695.5,504.0 696.1,509.1 696.8,512.7 697.4,512.7 698.0,512.3 698.6,511.7 699.3,510.0 699.9,508.2 700.5,508.1 701.1,508.0 701.8,506.4 702.4,504.8 703.0,505.1 703.6,505.4 704.3,504.3 704.9,503.2 705.5,503.2 706.1,503.2 706.8,501.4 707.4,499.6 708.0,499.8 708.6,500.0 709.3,498.1 709.9,496.3 710.5,497.3 711.1,498.5 711.8,499.1 712.4,500.9 713.0,503.5 713.6,505.7 714.3,507.8 714.9,509.7 715.5,512.0 716.1,514.6 716.8,517.0 717.4,520.5 718.0,526.3 718.6,534.2 719.3,544.3 719.9,559.7 720.5,583.0 721.1,598.3 721.8,602.9 722.4,596.4 723.0,586.9 723.6,579.6 724.3,574.0 724.9,570.2 725.5,568.0 726.1,566.6 726.8,566.4 727.4,571.9 728.0,583.8 728.6,598.2 729.3,619.6 729.9,637.1 730.5,648.3 731.1,650.0 731.8,638.0 732.4,621.1 733.0,597.4 733.6,583.4 734.3,576.0 734.9,570.7 735.5,569.0 736.1,570.0 736.8,571.1 737.4,572.2 738.0,572.7 738.6,571.7 739.3,569.6 739.9,567.0 740.5,565.5 741.1,564.7 741.8,562.9 742.4,561.1 743.0,559.7 743.6,558.3 744.3,558.1 744.9,558.0 745.5,557.5 746.1,557.0 746.8,556.5 747.4,556.1 748.0,555.5 748.6,554.6 749.3,553.5 749.9,551.3 750.5,549.0 751.1,549.1 751.8,553.7 752.4,558.8 753.0,562.3 753.6,564.9 754.3,563.6 754.9,560.0 755.5,557.1 756.1,555.5 756.8,553.5 757.4,551.7 758.0,550.3 758.6,549.0 759.3,548.7 759.9,548.6 760.5,547.1 761.1,545.9 761.8,545.9 762.4,546.2 763.0,546.7 763.6,548.9 764.3,552.2 764.9,555.4 765.5,558.0 766.1,560.0 766.8,560.3 767.4,559.7 768.0,559.8 768.6,560.1 769.3,559.1 769.9,559.0 770.5,560.2 771.1,561.5 771.8,562.4 772.4,562.7 773.0,563.4 773.6,564.0 774.3,564.0 774.9,564.0 775.5,564.6 776.1,565.3 776.8,566.0 777.4,566.8 778.0,568.1 778.6,569.4 779.3,570.2 779.9,571.0 780.5,572.4 781.1,573.9 781.8,574.7 782.4,575.5 783.0,576.9 783.6,578.3 784.3,580.4 784.9,582.6 785.5,583.0 786.1,583.6 786.8,585.8 787.4,588.2 788.0,590.0 788.6,592.0 789.3,594.3 789.9,597.1 790.5,600.2 791.1,604.2 791.8,609.4 792.4,615.7 793.0,624.7 793.6,632.4 794.3,637.1 794.9,637.6 795.5,632.8 796.1,626.6 796.8,620.0 797.4,613.1 798.0,607.3 798.6,603.6 799.3,600.7 799.9,597.6 800.5,593.2 801.1,587.1 801.8,580.1 802.4,572.9 803.0,565.2 803.6,556.9 804.3,550.6 804.9,547.7 805.5,546.8 806.1,547.9 806.8,550.7 807.4,554.6 808.0,561.5 808.6,570.0 809.3,577.4 809.9,585.0 810.5,594.4 811.1,602.0 811.8,605.9 812.4,608.3 813.0,608.4 813.6,607.6 814.3,607.1 814.9,606.8 815.5,606.7 816.1,609.2 816.8,613.6 817.4,617.4 818.0,620.1 818.6,622.7 819.3,625.9 819.9,628.5 820.5,629.6 821.1,630.8 821.8,634.7 822.4,644.4 823.0,654.6 823.6,664.4 824.3,673.6 824.9,681.8 825.5,691.2 826.1,698.8 826.8,703.0 827.4,706.4 828.0,707.3 828.6,705.0 829.3,701.6 829.9,697.3 830.5,690.4 831.1,681.1 831.8,671.2 832.4,660.6 833.0,647.1 833.6,633.1 834.3,619.7 834.9,605.5 835.5,593.6 836.1,586.1 836.8,581.2 837.4,577.9 838.0,575.1 838.6,572.6 839.3,570.4 839.9,568.8 840.5,568.9 841.1,569.8 841.8,570.7 842.4,571.5 843.0,572.4 843.6,571.7 844.3,567.6 844.9,562.5 845.5,558.5 846.1,553.8 846.8,548.9 847.4,544.2 848.0,539.3 848.6,534.5 849.3,531.6 849.9,529.8 850.5,526.7 851.1,524.0 851.8,523.6 852.4,524.1 853.0,524.3 853.6,524.7 854.3,525.9 854.9,527.2 855.5,527.5 856.1,528.2 856.8,530.4 857.4,533.1 858.0,537.6 858.6,542.4 859.3,544.3 859.9,542.3 860.5,539.2 861.1,535.8 861.8,533.1 862.4,532.9 863.0,534.1 863.6,536.0 864.3,537.3 864.9,541.1 865.5,544.4 866.1,542.2 866.8,536.8 867.4,531.5 868.0,527.6 868.6,523.8 869.3,521.9 869.9,521.7 870.5,520.8 871.1,520.1 871.8,519.3 872.4,519.0 873.0,520.3 873.6,522.3 874.3,523.9 874.9,525.2 875.5,527.4 876.1,529.7 876.8,531.5 877.4,533.0 878.0,533.5 878.6,533.9 879.3,534.8 879.9,534.9 880.5,533.4 881.1,530.8 881.8,526.9 882.4,520.4 883.0,514.9 883.6,513.8 884.3,513.4 884.9,512.9 885.5,513.7 886.1,514.4 886.8,513.4 887.4,511.9 888.0,511.4 888.6,511.1 889.3,510.7 889.9,510.5 890.5,510.3 891.1,510.2 891.8,511.3 892.4,512.4 893.0,511.8 893.6,511.7 894.3,514.4 894.9,518.1 895.5,522.2 896.1,528.8 896.8,534.5 897.4,539.6 898.0,542.6 898.6,541.7 899.3,539.6 899.9,538.1 900.5,537.2 901.1,536.5 901.8,536.0 902.4,536.0 903.0,536.9 903.6,538.6 904.3,541.5 904.9,544.8 905.5,547.7 906.1,551.0 906.8,555.0 907.4,559.7 908.0,563.7 908.6,565.2 909.3,561.3 909.9,554.9 910.5,550.1 911.1,545.1 911.8,541.7 912.4,541.7 913.0,542.9 913.6,544.2 914.3,544.2 914.9,542.4 915.5,539.4 916.1,537.8 916.8,537.7 917.4,537.7 918.0,537.4 918.6,537.1 919.3,538.8 919.9,541.4 920.5,542.9 921.1,544.2 921.8,546.4 922.4,548.8 923.0,550.8 923.6,552.5 924.3,553.8 924.9,554.8 925.5,556.0 926.1,557.0 926.8,557.7 927.4,558.3 928.0,559.2 928.6,560.1 929.3,561.0 929.9,561.9 930.5,562.4 931.1,562.9 931.8,562.4 932.4,561.9 933.0,561.6 933.6,561.2 934.3,561.7 934.9,562.2 935.5,562.0 936.1,562.5 936.8,563.6 937.4,564.8 938.0,566.7 938.6,568.8 939.3,570.0 939.9,571.2 940.5,573.0 941.1,574.5 941.8,575.8 942.4,576.9 943.0,578.2 943.6,579.7 944.3,581.7 944.9,584.0 945.5,585.9 946.1,587.9 946.8,590.1 947.4,592.6 948.0,596.0 948.6,599.1 949.3,601.4 949.9,602.8 950.5,602.3 951.1,601.7 951.8,602.4 952.4,603.3 953.0,605.0 953.6,607.3 954.3,608.7 954.9,609.6 955.5,610.3 956.1,610.5 956.8,610.6 957.4,610.7 958.0,607.5 958.6,600.5 959.3,600.9 959.9,604.5 960.5,606.6 961.1,605.9 961.8,604.4 962.4,603.0 963.0,602.8 963.6,603.8 964.3,603.9 964.9,603.5 965.5,603.7 966.1,603.5 966.8,602.0 967.4,601.6 968.0,603.3 968.6,605.1 969.3,605.7 969.9,605.5" fill="none" stroke="#E80000" stroke-width="3.1" stroke-linejoin="round" stroke-linecap="butt"/>
<!-- axes -->
<g stroke="#000" fill="none">
<line x1="67.3" y1="0" x2="67.3" y2="742.2" stroke-width="3.2"/>
<line x1="65.7" y1="727.5" x2="970" y2="727.5" stroke-width="3.2"/>
<g stroke-width="3">
<line x1="324.3" y1="727" x2="324.3" y2="742.2"/>
<line x1="581.9" y1="727" x2="581.9" y2="742.2"/>
<line x1="840.1" y1="727" x2="840.1" y2="742.2"/>
</g>
<g stroke-width="2.7">
<line x1="195.5" y1="727" x2="195.5" y2="734.7"/>
<line x1="453.5" y1="727" x2="453.5" y2="734.7"/>
<line x1="711.3" y1="727" x2="711.3" y2="734.7"/>
<line x1="968.8" y1="727" x2="968.8" y2="734.7"/>
</g>
</g>
<!-- tick labels -->
<text class="tick" x="66.5" y="778.7">4000</text>
<text class="tick" x="325" y="778.7">3000</text>
<text class="tick" x="581.7" y="778.7">2000</text>
<text class="tick" x="841" y="778.7">1000</text>
<!-- axis titles -->
<text class="title" x="349.5" y="837.5">Wavenumber <tspan x="583.3">(cm</tspan><tspan class="sup" dy="-14.5">-1</tspan><tspan dy="14.5" dx="3">)</tspan></text>
<text class="title" transform="translate(33.3,496.5) rotate(-90)" word-spacing="-1" style="font-size:38px">Transmittance (%)</text>
<!-- series labels -->
<text class="title" x="94" y="48.3" word-spacing="-2.6" style="fill:#2F5597">crude glycerol</text>
<text class="title" x="95" y="476.5" word-spacing="-2.2" style="fill:#C80000">pure glycerol</text>
<!-- annotations -->
<text class="ann" x="399" y="248.7">1790 <tspan dx="1" font-size="34.4">cm</tspan><tspan font-size="22.6" dy="-10">-1</tspan></text>
<text class="ann" x="418.5" y="316.7">1730 <tspan dx="1" font-size="34.4">cm</tspan><tspan font-size="22.6" dy="-10">-1</tspan></text>
<text class="ann" x="433.5" y="383.8">1662 <tspan dx="1" font-size="34.4">cm</tspan><tspan font-size="22.6" dy="-10">-1</tspan></text>
<g stroke="#000" stroke-width="1.7" fill="#000">
<line x1="554.4" y1="237.8" x2="615.8" y2="237.8"/>
<polygon points="632.8,237.8 614.8,231.8 614.8,243.8" stroke="none"/>
<line x1="573.0" y1="305.8" x2="636.0" y2="305.8"/>
<polygon points="653.0,305.8 635.0,299.8 635.0,311.8" stroke="none"/>
<line x1="590.0" y1="371.9" x2="653.0" y2="371.9"/>
<polygon points="670.0,371.9 652.0,365.9 652.0,377.9" stroke="none"/>
</g>
</svg>
</body>
</html>
